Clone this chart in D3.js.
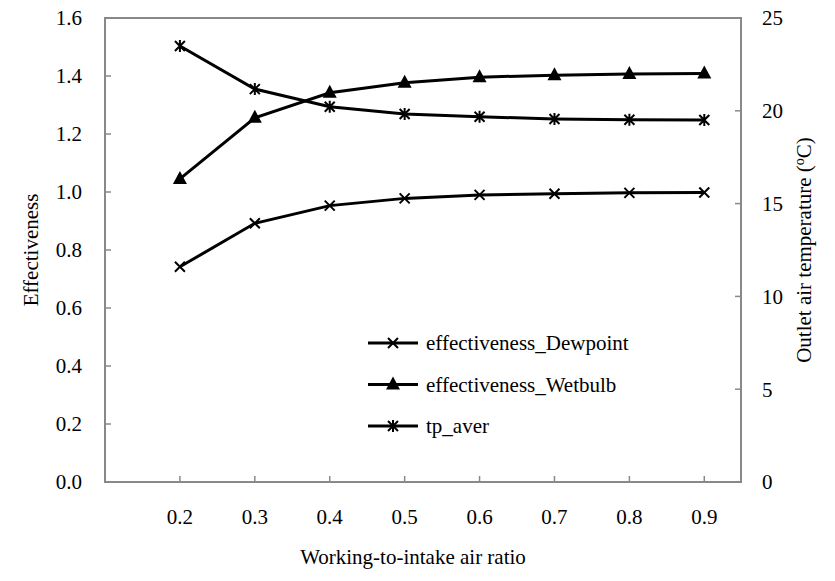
<!DOCTYPE html>
<html>
<head>
<meta charset="utf-8">
<script src="https://cdn.jsdelivr.net/npm/d3@7"></script>
<style>
  svg text { font-family: "Liberation Serif", Tinos, "Times New Roman", serif !important; }
</style>
</head>
<body style="margin:0">
<script>
// data
var ratios = [0.2, 0.3, 0.4, 0.5, 0.6, 0.7, 0.8, 0.9];
var effDewpoint = [0.742, 0.892, 0.953, 0.978, 0.990, 0.994, 0.997, 0.998];
var effWetbulb = [1.045, 1.256, 1.342, 1.377, 1.396, 1.403, 1.407, 1.409];
var tpAver = [23.49, 21.17, 20.22, 19.83, 19.68, 19.56, 19.52, 19.50];
var leftTicks = [0, 0.2, 0.4, 0.6, 0.8, 1.0, 1.2, 1.4, 1.6];
var rightTicks = [0, 5, 10, 15, 20, 25];
var legendNames = ["effectiveness_Dewpoint", "effectiveness_Wetbulb", "tp_aver"];

var margin = {top: 18, right: 94, bottom: 99, left: 105},
    width = 835 - margin.left - margin.right,
    height = 581 - margin.top - margin.bottom;

var font = "Liberation Serif";
var fontSize = 21;

var x = d3.scaleLinear().domain([0.1, 0.949]).range([0, width]);
var yL = d3.scaleLinear().domain([0, 1.6]).range([height, 0]);
var yR = d3.scaleLinear().domain([0, 25]).range([height, 0]);

var svg = d3.select("body").append("svg")
    .attr("width", 835)
    .attr("height", 581)
  .append("g")
    .attr("transform", "translate(" + margin.left + "," + margin.top + ")");

var axisColor = "#898989";

// axes drawn by hand from the scales, so no default sans-serif font is set
function tickText(g, x0, y0, label, anchor) {
  g.append("text").attr("x", x0).attr("y", y0)
    .attr("font-family", font).attr("font-size", fontSize)
    .attr("text-anchor", anchor).attr("dy", "0.35em")
    .text(label);
}

var frame = svg.append("g");
frame.append("rect").attr("width", width).attr("height", height)
    .attr("fill", "none").attr("stroke", axisColor).attr("stroke-width", 2);

var fmt = d3.format(".1f");
ratios.forEach(function(r) {
  frame.append("line").attr("x1", x(r)).attr("x2", x(r)).attr("y1", height).attr("y2", height - 6)
      .attr("stroke", axisColor).attr("stroke-width", 1.5);
  tickText(frame, x(r), height + 35, fmt(r), "middle");
});
leftTicks.forEach(function(t) {
  frame.append("line").attr("x1", 0).attr("x2", 6).attr("y1", yL(t)).attr("y2", yL(t))
      .attr("stroke", axisColor).attr("stroke-width", 1.5);
  tickText(frame, -23, yL(t), fmt(t), "end");
});
rightTicks.forEach(function(t) {
  frame.append("line").attr("x1", width).attr("x2", width - 6).attr("y1", yR(t)).attr("y2", yR(t))
      .attr("stroke", axisColor).attr("stroke-width", 1.5);
  tickText(frame, width + 21, yR(t), t, "start");
});

// axis titles
svg.append("text")
    .attr("transform", "translate(" + (-67) + "," + (height / 2) + ") rotate(-90)")
    .attr("font-family", font).attr("font-size", fontSize)
    .attr("text-anchor", "middle")
    .text("Effectiveness");
var rt = svg.append("text")
    .attr("transform", "translate(" + (width + 70) + "," + (height / 2) + ") rotate(-90)")
    .attr("font-family", font).attr("font-size", fontSize)
    .attr("text-anchor", "middle");
rt.append("tspan").text("Outlet air temperature (");
rt.append("tspan").attr("dy", -7).attr("font-size", 14).text("o");
rt.append("tspan").attr("dy", 7).text("C)");
svg.append("text")
    .attr("x", width / 2 - 10).attr("y", height + 82)
    .attr("font-family", font).attr("font-size", fontSize)
    .attr("text-anchor", "middle")
    .text("Working-to-intake air ratio");

// marker shapes
function drawMarker(g, type, cx, cy) {
  if (type === "x" || type === "star") {
    var s = 5;
    g.append("path")
      .attr("d", "M" + (cx - s) + "," + (cy - s) + "L" + (cx + s) + "," + (cy + s) +
                 "M" + (cx - s) + "," + (cy + s) + "L" + (cx + s) + "," + (cy - s) +
                 (type === "star" ? "M" + cx + "," + (cy - 6) + "L" + cx + "," + (cy + 6) : ""))
      .attr("stroke", "#000").attr("stroke-width", 2).attr("fill", "none");
  } else {
    g.append("path")
      .attr("d", "M" + cx + "," + (cy - 8) + "L" + (cx + 7) + "," + (cy + 5) + "L" + (cx - 7) + "," + (cy + 5) + "Z")
      .attr("fill", "#000");
  }
}

var series = [
  {vals: effDewpoint, scale: yL, marker: "x"},
  {vals: effWetbulb, scale: yL, marker: "tri"},
  {vals: tpAver, scale: yR, marker: "star"}
];

series.forEach(function(s) {
  var line = d3.line()
      .x(function(d, i) { return x(ratios[i]); })
      .y(function(d) { return s.scale(d); });
  svg.append("path")
      .datum(s.vals)
      .attr("d", line)
      .attr("fill", "none")
      .attr("stroke", "#000")
      .attr("stroke-width", 3);
  var mg = svg.append("g");
  s.vals.forEach(function(d, i) {
    drawMarker(mg, s.marker, x(ratios[i]), s.scale(d));
  });
});

// legend
var legend = svg.append("g").attr("transform", "translate(" + (368 - margin.left) + "," + (343 - margin.top) + ")");
series.forEach(function(s, i) {
  var row = legend.append("g").attr("transform", "translate(0," + (i * 41.5) + ")");
  row.append("line").attr("x1", 0).attr("x2", 50).attr("y1", 0).attr("y2", 0)
      .attr("stroke", "#000").attr("stroke-width", 3);
  drawMarker(row, s.marker, 25, 0);
  row.append("text").attr("x", 58).attr("y", 7)
      .attr("font-family", font).attr("font-size", fontSize)
      .text(legendNames[i]);
});
</script>
</body>
</html>
